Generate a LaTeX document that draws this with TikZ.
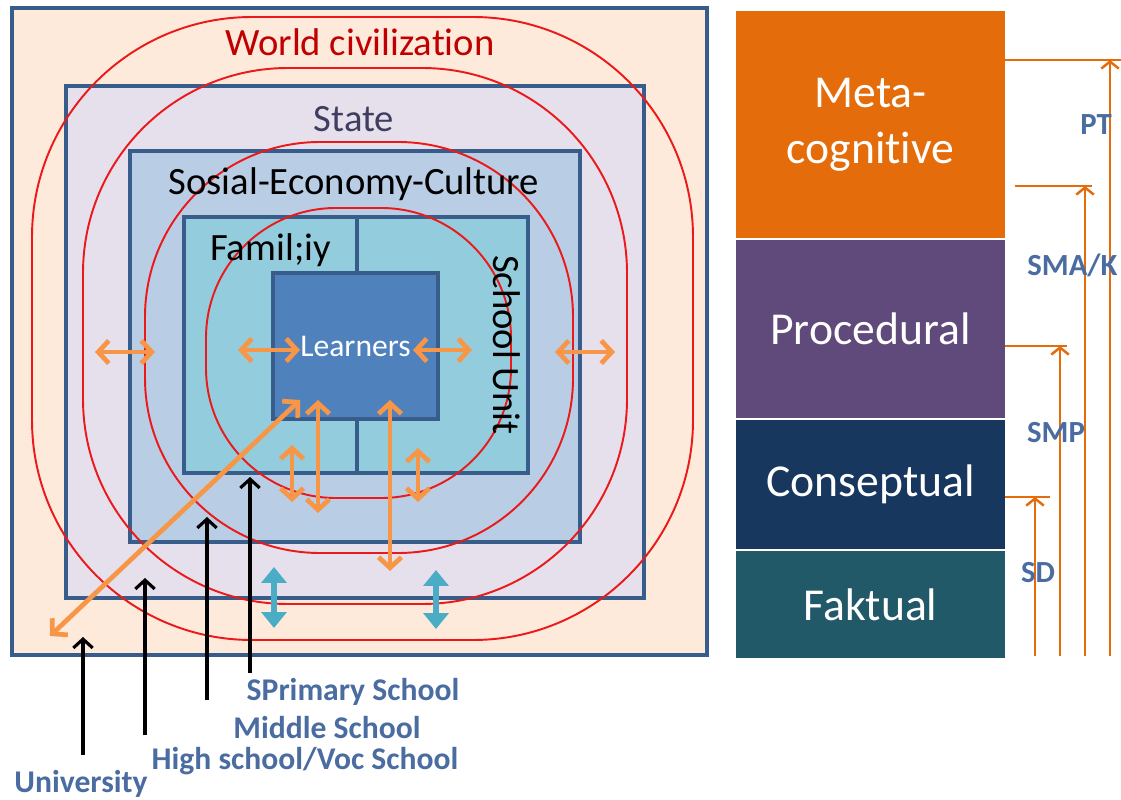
\documentclass[tikz,border=0pt]{standalone}
\usepackage{fontspec}
\setmainfont{Carlito}[Ligatures=NoCommon]
\usetikzlibrary{arrows.meta,positioning}
\definecolor{boxblue}{RGB}{56,93,138}
\definecolor{worldfill}{RGB}{253,234,218}
\definecolor{statefill}{RGB}{230,224,236}
\definecolor{socialfill}{RGB}{185,205,229}
\definecolor{unitfill}{RGB}{147,205,221}
\definecolor{learnerfill}{RGB}{79,129,189}
\definecolor{ringred}{RGB}{235,25,25}
\definecolor{titlered}{RGB}{192,0,0}
\definecolor{statetext}{RGB}{64,62,96}
\definecolor{linkorange}{RGB}{247,150,70}
\definecolor{linkteal}{RGB}{75,172,198}
\definecolor{levelblue}{RGB}{74,108,160}
\definecolor{metacolor}{RGB}{228,108,10}
\definecolor{proccolor}{RGB}{96,74,123}
\definecolor{conscolor}{RGB}{23,55,94}
\definecolor{faktcolor}{RGB}{33,89,104}

\begin{document}
\begin{tikzpicture}[
        x=0.02cm, y=-0.02cm,
        layer/.style={draw=boxblue, line width=2.3pt},
        ring/.style={draw=ringred, line width=1.1pt},
        big/.style={font=\fontsize{22}{26}\selectfont},
        link/.style={draw=linkorange, line width=2.7pt, >={Straight Barb[length=6pt,width=13pt]}, <->},
        fat/.style={draw=linkteal, line width=3.6pt, >={Triangle[length=9pt,width=14pt]}, <->},
        pointer/.style={draw=black, line width=1.8pt, ->, >={Straight Barb[length=5pt,width=11pt]}},
        level/.style={font=\bfseries\fontsize{18}{21}\selectfont, text=levelblue, inner sep=0pt},
        bar/.style={minimum width=5.4cm, inner sep=0pt, draw=white, line width=0.6pt, text=white, align=center, font=\fontsize{26}{32}\selectfont},
        grade/.style={draw=metacolor, line width=1.4pt},
        upgrade/.style={grade, ->, >={Straight Barb[length=4pt,width=10pt]}},
        stage/.style={font=\bfseries\fontsize{17.5}{20}\selectfont, text=levelblue, inner sep=0pt}
    ]
        \clip (0,0) rectangle (1121,800);

        % Nested environments
        \draw[layer, fill=worldfill] (12,8) rectangle (707,655);
        \draw[layer, fill=statefill] (66,86) rectangle (644,598);
        \draw[layer, fill=socialfill] (130,151) rectangle (580,542);
        \draw[layer, fill=unitfill] (184,217) rectangle (528,473);
        \draw[layer] (357,217) -- (357,473);
        \node[layer, fill=learnerfill, minimum width=3.3cm, minimum height=2.92cm, text=white, font=\fontsize{18}{22}\selectfont] (learners) at (355.5,346) {Learners};

        % Red rings
        \draw[ring, rounded corners=4.4cm] (32,17) rectangle (693,640);
        \draw[ring, rounded corners=4.1cm] (83,68) rectangle (627,604);
        \draw[ring, rounded corners=3.5cm] (145,142) rectangle (573,553);
        \draw[ring, rounded corners=2.6cm] (206,208) rectangle (511,498);

        % Layer names
        \node[big, text=titlered] (world) at (360,42) {World civilization};
        \node[big, text=statetext] (state) at (354,119) {State};
        \node[big] (social) at (354,184) {Sosial-Economy-Culture};
        \node[big, anchor=west] (family) at (204,250) {Famil;iy};
        \node[big, rotate=-90] (school) at (507,345) {School Unit};

        % Interactions
        \coordinate (stateL) at (95,352);
        \coordinate (socialL) at (155,352);
        \coordinate (socialR) at (555,352);
        \coordinate (stateR) at (615,352);
        \draw[link] (stateL) -- (socialL);
        \draw[link] (socialR) -- (stateR);

        \coordinate (famIn) at (238,350);
        \coordinate (lrnL) at (300,350);
        \coordinate (lrnR) at (413,350);
        \coordinate (schIn) at (472,350);
        \draw[link] (famIn) -- (lrnL);
        \draw[link] (lrnR) -- (schIn);

        \coordinate (lrnA) at (300,400);
        \coordinate (uniEnd) at (50,636);
        \draw[link] (lrnA) -- (uniEnd);
        \coordinate (lrnB) at (318,400);
        \coordinate (socB) at (318,513);
        \draw[link] (lrnB) -- (socB);
        \coordinate (lrnC) at (390,400);
        \coordinate (stateC) at (390,571);
        \draw[link] (lrnC) -- (stateC);
        \coordinate (famD) at (292,445);
        \coordinate (socD) at (292,502);
        \draw[link] (famD) -- (socD);
        \coordinate (schE) at (418,448);
        \coordinate (socE) at (418,502);
        \draw[link] (schE) -- (socE);

        \coordinate (stateF) at (274,567);
        \coordinate (worldF) at (274,628);
        \draw[fat] (stateF) -- (worldF);
        \coordinate (stateG) at (436,570);
        \coordinate (worldG) at (436,629);
        \draw[fat] (stateG) -- (worldG);

        % School levels
        \node[level] (primary) at (353,692) {SPrimary School};
        \node[level] (middle) at (327,728) {Middle School};
        \node[level] (high) at (305,761) {High school/Voc School};
        \node[level] (uni) at (81,784) {University};

        \coordinate (uniS) at (83,755);
        \coordinate (uniT) at (83,637);
        \coordinate (highS) at (145,735);
        \coordinate (highT) at (145,578);
        \coordinate (midS) at (207,700);
        \coordinate (midT) at (207,517);
        \coordinate (primS) at (250,673);
        \coordinate (primT) at (250,477);
        \draw[pointer] (uniS) -- (uniT);
        \draw[pointer] (highS) -- (highT);
        \draw[pointer] (midS) -- (midT);
        \draw[pointer] (primS) -- (primT);

        % Knowledge dimensions
        \node[bar, fill=metacolor, minimum height=4.56cm, anchor=north west] (meta) at (735,10) {Meta-\\cognitive};
        \node[bar, fill=proccolor, minimum height=3.58cm, below=0pt of meta] (proc) {Procedural};
        \node[bar, fill=conscolor, minimum height=2.6cm, below=0pt of proc] (cons) {Conseptual};
        \node[bar, fill=faktcolor, minimum height=2.16cm, below=0pt of cons] (fakt) {Faktual};

        % Schooling stages
        \coordinate (sdL) at (1005,497);
        \coordinate (sdR) at (1050,497);
        \coordinate (smpL) at (1005,346);
        \coordinate (smpR) at (1067,346);
        \coordinate (smaL) at (1015,186);
        \coordinate (smaR) at (1092,186);
        \coordinate (ptL) at (1005,60);
        \coordinate (ptR) at (1121,60);
        \draw[grade] (sdL) -- (sdR);
        \draw[grade] (smpL) -- (smpR);
        \draw[grade] (smaL) -- (smaR);
        \draw[grade] (ptL) -- (ptR);

        \coordinate (sdB) at (1035,656);
        \coordinate (smpB) at (1060,656);
        \coordinate (smaB) at (1085,656);
        \coordinate (ptB) at (1110,656);
        \draw[upgrade] (sdB) -- (1035,497);
        \draw[upgrade] (smpB) -- (1060,346);
        \draw[upgrade] (smaB) -- (1085,186);
        \draw[upgrade] (ptB) -- (1110,60);

        \node[stage] (sd) at (1038,573) {SD};
        \node[stage] (smp) at (1056,433) {SMP};
        \node[stage, anchor=west] (sma) at (1027,265) {SMA/K};
        \node[stage, anchor=west] (pt) at (1080,125) {PT};
\end{tikzpicture}
\end{document}
